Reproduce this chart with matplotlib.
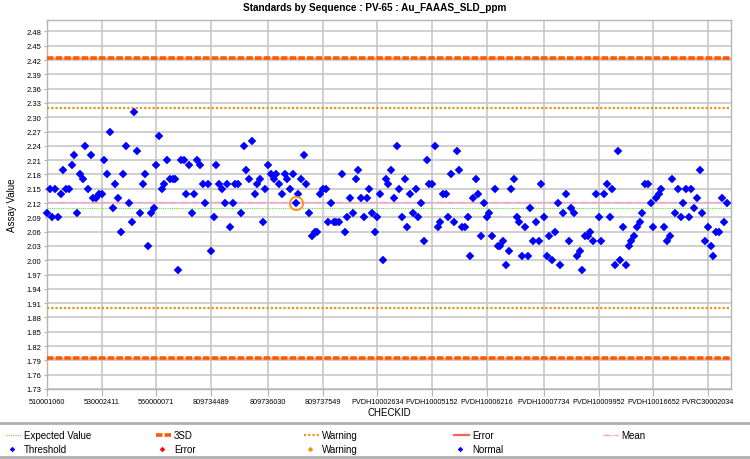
import matplotlib
matplotlib.use("Agg")
import matplotlib.pyplot as plt
from matplotlib.lines import Line2D
import numpy as np

plt.rcParams['font.family'] = ['Liberation Sans', 'DejaVu Sans']

# ---------------------------------------------------------
# Data
# ---------------------------------------------------------
TITLE = "Standards by Sequence : PV-65 : Au_FAAAS_SLD_ppm"

assay_values = [
    2.10, 2.15, 2.09, 2.15, 2.09, 2.14, 2.19, 2.15, 2.15, 2.20,
    2.22, 2.10, 2.18, 2.17, 2.24, 2.15, 2.22, 2.13, 2.13, 2.14,
    2.14, 2.21, 2.18, 2.27, 2.11, 2.16, 2.13, 2.06, 2.18, 2.24,
    2.12, 2.08, 2.31, 2.23, 2.10, 2.16, 2.18, 2.03, 2.10, 2.11,
    2.20, 2.26, 2.15, 2.16, 2.21, 2.17, 2.17, 2.17, 1.98,
    2.21, 2.21, 2.14, 2.20, 2.10, 2.14, 2.21, 2.20, 2.16, 2.12,
    2.16, 2.02, 2.09, 2.20, 2.16, 2.15, 2.12, 2.16, 2.07, 2.12,
    2.16, 2.16, 2.10, 2.24, 2.19, 2.17, 2.25, 2.14, 2.16, 2.17,
    2.08, 2.15, 2.20, 2.18, 2.17, 2.18, 2.16, 2.14, 2.18, 2.17,
    2.15, 2.18, 2.12,
    2.14, 2.17, 2.22, 2.16, 2.10, 2.05, 2.06, 2.06, 2.14, 2.15,
    2.15, 2.08, 2.12, 2.08, 2.08, 2.08, 2.18, 2.06, 2.09, 2.13,
    2.10, 2.17, 2.19, 2.13, 2.09, 2.13, 2.15, 2.10, 2.06, 2.09,
    2.14, 2.00, 2.17, 2.16, 2.19, 2.13, 2.24, 2.15, 2.09,
    2.17, 2.07, 2.14, 2.10, 2.15, 2.09, 2.12, 2.04, 2.21, 2.16,
    2.16, 2.24, 2.07, 2.08, 2.14, 2.14, 2.09, 2.18, 2.08, 2.23,
    2.19, 2.07, 2.07, 2.09, 2.01, 2.13, 2.17, 2.14, 2.05, 2.12,
    2.09, 2.10, 2.05, 2.15, 2.03, 2.03, 2.04, 1.99, 2.02, 2.15,
    2.17, 2.09, 2.08, 2.01, 2.07, 2.01, 2.11,
    2.04, 2.08, 2.04, 2.16, 2.09, 2.01, 2.05, 2.00, 2.06, 2.12,
    1.99, 2.10, 2.14, 2.04, 2.11, 2.10, 2.01, 2.02, 1.98, 2.05,
    2.05, 2.06, 2.04, 2.14, 2.09, 2.04, 2.14, 2.16, 2.09, 2.15,
    1.99, 2.23, 2.00, 2.07, 1.99, 2.03, 2.04, 2.05, 2.07, 2.08,
    2.10, 2.16, 2.16,
    2.12, 2.07, 2.13, 2.14, 2.15, 2.07, 2.04, 2.05, 2.17, 2.10,
    2.15, 2.09, 2.12, 2.15, 2.09, 2.15, 2.11, 2.13, 2.19, 2.10,
    2.04, 2.07, 2.03, 2.01, 2.06, 2.06, 2.13, 2.08, 2.12,
]

# sample flagged as warning (orange ring)
warning_index = [91]

tick_index = [0, 20, 40, 60, 81, 101, 121, 141, 161, 182, 202, 222, 242]
tick_labels = ["510001060", "530002411", "560000071", "809734489",
               "809736030", "809737549", "PVDH10002634", "PVDH10005152",
               "PVDH10006216", "PVDH10007734", "PVDH10009952",
               "PVDH10016652", "PVRC30002034"]

EXPECTED = 2.11
MEAN = 2.122
WARN_LIMITS = [1.90, 2.32]
SD3_LIMITS = [1.795, 2.425]
y_ticks = np.round(1.73 + 0.03 * np.arange(26), 2)

# ---------------------------------------------------------
# Figure
# ---------------------------------------------------------
W, H = 750, 460
fig = plt.figure(figsize=(W / 100, H / 100), dpi=100)
L, R, T, B = 47, 731, 21, 390
ax = fig.add_axes([L / W, 1 - B / H, (R - L) / W, (B - T) / H])

n = len(assay_values)
xs = np.arange(n)

ax.set_xlim(0, (n - 1) * (R - L) / (727 - L))
ax.set_ylim(1.73, 2.504)

ax.set_yticks(y_ticks)
ax.set_yticklabels([f"{v:.2f}" for v in y_ticks])
ax.set_xticks(tick_index)
ax.set_xticklabels(tick_labels)
ax.grid(True, color="#c4c4c4", lw=1.1)
ax.set_axisbelow(True)
for s in ax.spines.values():
    s.set_color("#b4b4b4")
    s.set_linewidth(1.0)
ax.tick_params(axis="y", labelsize=5.5, length=2, color="#b4b4b4", pad=2)
ax.tick_params(axis="x", labelsize=5.2, length=5, color="#b4b4b4", pad=1.5)

# reference lines
for v in SD3_LIMITS:
    ax.axhline(v, color="#ff8a7a", lw=1.0, zorder=2)
    ax.axhline(v, color="#ff5a00", lw=2.6, ls=(0, (1.8, 0.6)), zorder=3)
for v in WARN_LIMITS:
    ax.axhline(v, color="#e09a10", lw=1.6, ls=(0, (1, 0.9)), zorder=3)
ax.axhline(MEAN, color="#ff9ccc", lw=1.0, ls=(0, (5, 1, 1, 1)), zorder=3)
ax.axhline(EXPECTED, color="#66dd44", lw=0.8, ls=(0, (1, 1)), zorder=3)

# points
ax.plot(xs, assay_values, ls="none", marker="D", ms=4.2, color="#0000ff",
        mec="#0000ff", mew=0.3, clip_on=False, zorder=5)
wx = [xs[i] for i in warning_index]
wy = [assay_values[i] for i in warning_index]
ax.plot(wx, wy, ls="none", marker="o", ms=9.5, mfc="none", mec="#ff8c1a",
        mew=1.3, zorder=6)

# texts
fig.text(0.5, 1 - 8 / H, TITLE, ha="center", va="center", fontsize=7.2,
         fontweight="bold")
fig.text((L + R) / 2 / W, 1 - 413 / H, "CHECKID", ha="center", va="center",
         fontsize=7)
fig.text(12 / W, 1 - 205 / H, "Assay Value", ha="center", va="center",
         rotation=90, fontsize=7)

# ---------------------------------------------------------
# Legend (drawn by hand, two rows)
# ---------------------------------------------------------
def fx(px):
    return px / W


def fy(py):
    return 1 - py / H


for py in (424, 458):
    fig.add_artist(Line2D([0, 1], [fy(py), fy(py)], color="#b0b0b0", lw=2))

row1, row2 = 436, 450
line_items = [
    (6, "Expected Value", dict(color="#66dd44", lw=0.8, ls=(0, (1, 1)))),
    (156, "3SD", dict(color="#ff5a00", lw=2.6, ls=(0, (1.8, 0.6)))),
    (304, "Warning", dict(color="#e09a10", lw=1.6, ls=(0, (1, 0.9)))),
    (454, "Error", dict(color="#ff6060", lw=1.6, ls="-")),
    (603, "Mean", dict(color="#ff9ccc", lw=1.0, ls=(0, (5, 1, 1, 1)))),
]
for x0, label, style in line_items:
    fig.add_artist(Line2D([fx(x0), fx(x0 + 15)], [fy(row1), fy(row1)], **style))
    fig.text(fx(x0 + 18), fy(row1), label, ha="left", va="center", fontsize=7)

marker_items = [
    (6, "Threshold", "#0000ff"),
    (156, "Error", "#ff0000"),
    (304, "Warning", "#e09a10"),
    (454, "Normal", "#0000ff"),
]
for x0, label, c in marker_items:
    fig.add_artist(Line2D([fx(x0 + 6)], [fy(row2)], ls="none", marker="D",
                          ms=2.8, color=c, mew=0))
    fig.text(fx(x0 + 18), fy(row2), label, ha="left", va="center", fontsize=7)

fig.savefig("out.png", dpi=100)
